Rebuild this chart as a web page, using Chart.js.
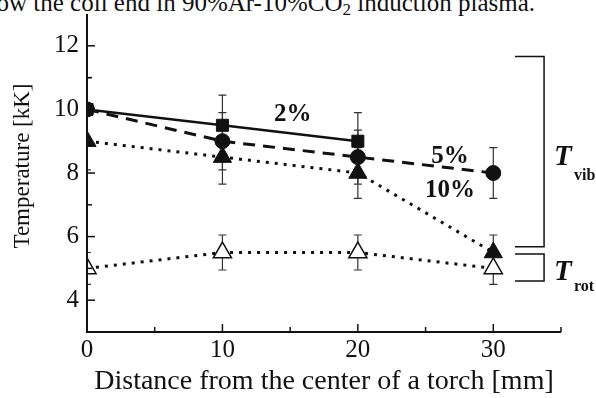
<!DOCTYPE html>
<html><head><meta charset="utf-8">
<script src="https://cdn.jsdelivr.net/npm/chart.js@4.4.0/dist/chart.umd.min.js"></script>
<style>
html,body{margin:0;padding:0;background:#fff;overflow:hidden}
#wrap{position:relative;width:596px;height:398px}
#cap{position:absolute;right:61px;top:-10px;font:25px "Liberation Serif",serif;line-height:25px;white-space:nowrap;color:#111}
#cap span{font-size:17px;position:relative;top:4px}
canvas{position:absolute;left:0;top:0}
</style></head><body>
<div id="wrap"><div id="cap">show the coil end in 90%Ar-10%CO<span>2</span> induction plasma.</div><canvas id="c" width="596" height="398"></canvas></div>
<script>
// ---- data ----
const distances = [0, 10, 20, 30];            // mm
const tvib2  = [10.0, 9.5, 9.0, null];        // kK, 2% CO2
const tvib5  = [10.0, 9.0, 8.5, 8.0];         // kK, 5% CO2
const tvib10 = [9.0, 8.5, 8.0, 5.5];          // kK, 10% CO2
const trot10 = [5.0, 5.5, 5.5, 5.0];          // kK, rotational
const err2   = [1.0, 0.95, 0.9, null];
const err5   = [1.0, 0.9, 0.85, 0.8];
const err10  = [0.9, 0.85, 0.8, 0.55];
const errRot = [0.5, 0.55, 0.55, 0.5];
const xTickLabels = [0, 10, 20, 30];
const yTickLabels = [4, 6, 8, 10, 12];
const seriesLabels = ['2%', '5%', '10%'];
// annotation placement (data coordinates)
const labelX = [15.2, 26.8, 26.8];
const labelY = [9.65, 8.3, 7.25];
const vibRange = [5.68, 11.66];
const rotRange = [4.6, 5.45];
const bracketX = [31.6, 33.75];

const FONT = '"Liberation Serif", "Times New Roman", serif';

function pts(arr){ return distances.map((x,i)=>({x:x, y:arr[i]})).filter(p=>p.y!==null); }

const errs = [err2, err5, err10, errRot];
const vals = [tvib2, tvib5, tvib10, trot10];

const decor = {
  id: 'decor',
  beforeDatasetsDraw(chart){
    const {ctx, chartArea:a, scales:{x, y}} = chart;
    ctx.save();
    ctx.beginPath(); ctx.rect(a.left, a.top, a.right-a.left, a.bottom-a.top); ctx.clip();
    ctx.strokeStyle = '#333'; ctx.lineWidth = 1.2;
    vals.forEach((src, di) => {
      const e = errs[di];
      distances.forEach((d, i) => {
        if (src[i] === null || e[i] === null) return;
        const px = x.getPixelForValue(d);
        const y1 = y.getPixelForValue(src[i] + e[i]);
        const y2 = y.getPixelForValue(src[i] - e[i]);
        ctx.beginPath();
        ctx.moveTo(px, y1); ctx.lineTo(px, y2);
        ctx.moveTo(px-4, y1); ctx.lineTo(px+4, y1);
        ctx.moveTo(px-4, y2); ctx.lineTo(px+4, y2);
        ctx.stroke();
      });
    });
    ctx.restore();
  },
  afterDatasetsDraw(chart){
    const {ctx, chartArea:a, scales:{x, y}} = chart;
    ctx.save();
    ctx.strokeStyle = '#111'; ctx.lineWidth = 2;
    ctx.beginPath();
    ctx.moveTo(a.left, a.top); ctx.lineTo(a.left, a.bottom); ctx.lineTo(a.right, a.bottom);
    ctx.stroke();
    ctx.lineWidth = 1.5;
    y.ticks.forEach(t => {
      if (t.value <= y.min || t.value >= y.max) return;
      const major = yTickLabels.includes(t.value);
      const py = y.getPixelForValue(t.value);
      ctx.beginPath(); ctx.moveTo(a.left, py); ctx.lineTo(a.left + (major ? 8 : 5), py); ctx.stroke();
    });
    x.ticks.forEach(t => {
      if (t.value <= x.min) return;
      const major = xTickLabels.includes(t.value);
      const px = x.getPixelForValue(t.value);
      ctx.beginPath(); ctx.moveTo(px, a.bottom); ctx.lineTo(px, a.bottom - (major ? 8 : 5)); ctx.stroke();
    });
    // y axis title
    ctx.fillStyle = '#111';
    ctx.save();
    ctx.translate(23, 166); ctx.rotate(-Math.PI/2);
    ctx.font = '23px ' + FONT; ctx.textAlign = 'center'; ctx.textBaseline = 'middle';
    ctx.fillText('Temperature [kK]', 0, 0);
    ctx.restore();
    // series labels
    ctx.font = 'bold 25px ' + FONT;
    ctx.textAlign = 'center'; ctx.textBaseline = 'alphabetic';
    seriesLabels.forEach((s, i) => {
      ctx.fillText(s, x.getPixelForValue(labelX[i]), y.getPixelForValue(labelY[i]));
    });
    // brackets
    ctx.lineWidth = 1.5; ctx.strokeStyle = '#111';
    const bx0 = x.getPixelForValue(bracketX[0]), bx1 = x.getPixelForValue(bracketX[1]);
    [vibRange, rotRange].forEach(r => {
      const yt = y.getPixelForValue(r[1]), yb = y.getPixelForValue(r[0]);
      ctx.beginPath();
      ctx.moveTo(bx0, yt); ctx.lineTo(bx1, yt); ctx.lineTo(bx1, yb); ctx.lineTo(bx0, yb);
      ctx.stroke();
    });
    ctx.textAlign = 'left';
    const vy = y.getPixelForValue((vibRange[0]+vibRange[1])/2);
    const ry = y.getPixelForValue((rotRange[0]+rotRange[1])/2);
    ctx.font = 'italic bold 29px ' + FONT;
    ctx.fillText('T', 554, vy + 13);
    ctx.fillText('T', 554, ry + 12);
    ctx.font = 'bold 16px ' + FONT;
    ctx.fillText('vib', 574, vy + 28);
    ctx.fillText('rot', 574, ry + 23);
    ctx.restore();
  }
};

new Chart(document.getElementById('c'), {
  type: 'line',
  data: {
    datasets: [
      { label: '2%', data: pts(tvib2), borderColor: '#111', borderWidth: 2.5,
        pointStyle: 'rect', pointRadius: 8.5, pointBackgroundColor: '#111', pointBorderColor: '#111', pointBorderWidth: 1 },
      { label: '5%', data: pts(tvib5), borderColor: '#111', borderWidth: 3, borderDash: [12, 8],
        pointStyle: 'circle', pointRadius: 7.5, pointBackgroundColor: '#111', pointBorderColor: '#111', pointBorderWidth: 1 },
      { label: '10%', data: pts(tvib10), borderColor: '#111', borderWidth: 3, borderDash: [3, 6],
        pointStyle: 'triangle', pointRadius: 10.5, pointBackgroundColor: '#111', pointBorderColor: '#111', pointBorderWidth: 1 },
      { label: 'Trot', data: pts(trot10), borderColor: '#111', borderWidth: 3, borderDash: [3, 6],
        pointStyle: 'triangle', pointRadius: 10.5, pointBackgroundColor: '#fff', pointBorderColor: '#111', pointBorderWidth: 1.5 }
    ]
  },
  options: {
    responsive: false, animation: false,
    clip: 0,
    layout: { padding: { left: 0, top: 14, right: 35, bottom: 0 } },
    plugins: { legend: { display: false }, tooltip: { enabled: false } },
    events: [],
    scales: {
      x: {
        type: 'linear', min: 0, max: 35,
        afterFit(s){ s.height = 66; s.paddingLeft = 0; s.paddingRight = 0; },
        grid: { display: false, drawTicks: false },
        border: { display: false },
        ticks: { stepSize: 5, autoSkip: false, maxRotation: 0, padding: 3, color: '#111',
          font: { family: FONT, size: 25 },
          callback: v => xTickLabels.includes(v) ? String(v) : '' },
        title: { display: true, text: 'Distance from the center of a torch [mm]', color: '#111',
          font: { family: FONT, size: 28, lineHeight: 1 }, padding: { top: 0, bottom: 2 } }
      },
      y: {
        type: 'linear', min: 3, max: 13,
        afterFit(s){ s.width = 87; s.paddingTop = 0; s.paddingBottom = 0; },
        grid: { display: false, drawTicks: false },
        border: { display: false },
        ticks: { stepSize: 1, autoSkip: false, padding: 8, color: '#111',
          font: { family: FONT, size: 25 },
          callback: v => yTickLabels.includes(v) ? String(v) : '' },
        title: { display: false }
      }
    }
  },
  plugins: [decor]
});
</script>
</body></html>
